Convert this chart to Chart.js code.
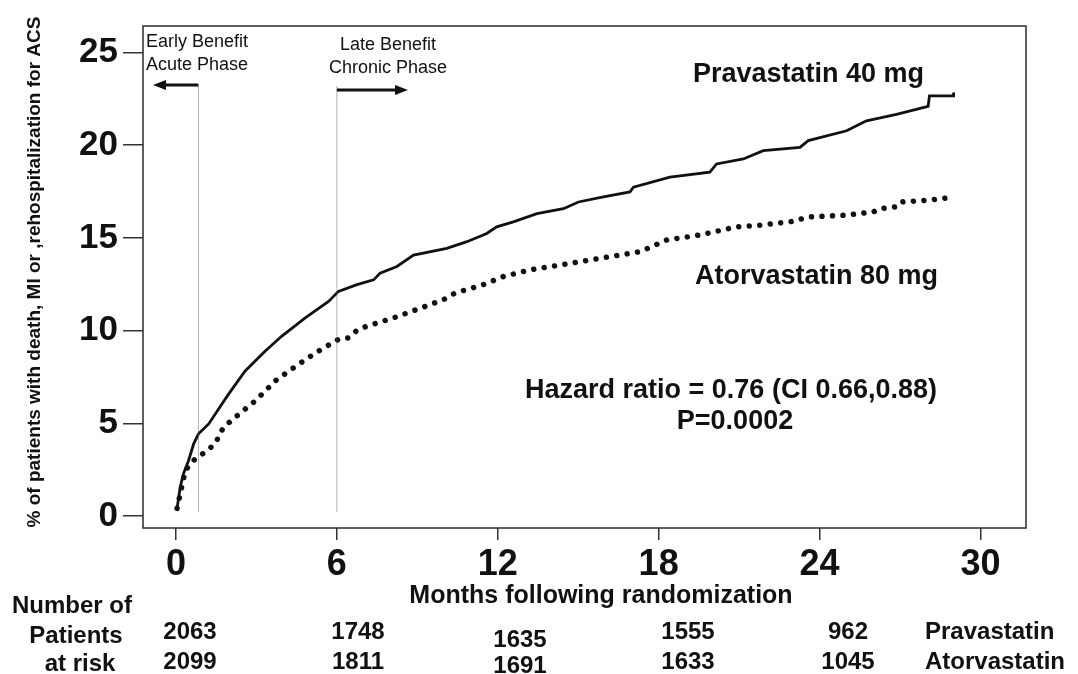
<!DOCTYPE html>
<html lang="en">
<head>
<meta charset="UTF-8">
<title>Pravastatin 40 mg vs Atorvastatin 80 mg</title>
<script src="https://cdn.jsdelivr.net/npm/chart.js"></script>
<style>
  html, body { margin: 0; padding: 0; background: #fff; }
  #wrap { width: 1078px; height: 674px; }
</style>
</head>
<body>
<div id="wrap"><canvas id="kmChart" width="1078" height="674"></canvas></div>
<script>
  // Cumulative event curves (months, % of patients)
  const pravMonths = [0.04, 0.16, 0.28, 0.47, 0.66, 0.84, 1.22, 1.59, 1.96, 2.58, 3.33, 3.95, 4.82, 5.69,
    6.06, 6.75, 7.37, 7.61, 8.24, 8.86, 10.10, 10.85, 11.59, 11.96, 12.58, 13.46, 14.45, 15.01, 15.94,
    16.93, 17.06, 18.42, 19.91, 20.16, 21.16, 21.90, 23.27, 23.58, 25.01, 25.75, 26.87, 27.86, 28.05,
    28.10, 28.98, 29.0];
  const pravPct = [0.42, 1.58, 2.29, 3.0, 3.9, 4.44, 4.97, 5.78, 6.58, 7.83, 8.90, 9.71, 10.69, 11.58,
    12.12, 12.48, 12.74, 13.10, 13.46, 14.08, 14.44, 14.80, 15.24, 15.60, 15.87, 16.31, 16.58, 16.94, 17.21,
    17.48, 17.74, 18.28, 18.55, 18.99, 19.26, 19.71, 19.89, 20.25, 20.78, 21.32, 21.67, 22.03, 22.10,
    22.66, 22.66, 22.85];

  const atorMonths = [0.04, 0.16, 0.35, 0.72, 1.09, 1.46, 1.77, 2.21, 2.96, 3.70, 4.57, 5.31, 6.06, 6.43,
    6.78, 7.12, 8.11, 8.98, 9.97, 10.41, 11.46, 12.21, 13.21, 14.70, 16.19, 17.31, 18.30, 19.54, 20.91,
    21.78, 22.90, 23.64, 25.01, 26.0, 26.25, 26.81, 27.0, 27.99, 28.74, 28.98];
  const atorPct = [0.42, 1.22, 2.47, 3.10, 3.45, 3.90, 4.79, 5.33, 6.22, 7.29, 8.19, 8.90, 9.53, 9.61,
    10.06, 10.24, 10.69, 11.14, 11.67, 12.03, 12.48, 12.92, 13.28, 13.63, 13.99, 14.26, 14.89, 15.16, 15.60,
    15.69, 15.87, 16.14, 16.23, 16.40, 16.58, 16.67, 16.94, 17.03, 17.15, 17.44];

  const xTicks = [0, 6, 12, 18, 24, 30];
  const yTicks = [0, 5, 10, 15, 20, 25];

  // early / late benefit cut points (months)
  const phaseLines = [0.84, 6];

  // patients at risk
  const riskMonths = [0, 6, 12, 18, 24];
  const pravRisk = [2063, 1748, 1635, 1555, 962];
  const atorRisk = [2099, 1811, 1691, 1633, 1045];

  const FONT = '"Liberation Sans", Arial, Helvetica, sans-serif';
  const INK = '#111';

  const toPoints = (xs, ys) => xs.map((m, i) => ({ x: m, y: ys[i] }));

  function text(ctx, str, x, y, size, weight, align) {
    ctx.font = weight + ' ' + size + 'px ' + FONT;
    ctx.textAlign = align || 'center';
    ctx.textBaseline = 'middle';
    ctx.fillStyle = INK;
    ctx.fillText(str, x, y);
  }

  function arrow(ctx, x0, y0, x1, y) {
    const dir = Math.sign(x1 - x0);
    ctx.strokeStyle = INK;
    ctx.fillStyle = INK;
    ctx.lineWidth = 3;
    ctx.beginPath();
    ctx.moveTo(x0, y);
    ctx.lineTo(x1 - dir * 10, y);
    ctx.stroke();
    ctx.beginPath();
    ctx.moveTo(x1, y);
    ctx.lineTo(x1 - dir * 13, y - 5);
    ctx.lineTo(x1 - dir * 13, y + 5);
    ctx.closePath();
    ctx.fill();
  }

  const annotations = {
    id: 'annotations',
    afterDraw(chart) {
      const { ctx, chartArea: a, scales: { x } } = chart;
      ctx.save();

      // frame around the plot
      ctx.strokeStyle = '#2a2a2a';
      ctx.lineWidth = 1.5;
      ctx.strokeRect(a.left, a.top, a.right - a.left, a.bottom - a.top);

      // phase arrows
      arrow(ctx, x.getPixelForValue(phaseLines[0]), 85, 153, 85);
      arrow(ctx, x.getPixelForValue(phaseLines[1]), 90, 408, 90);
      text(ctx, 'Early Benefit', 146, 42, 18, 'normal', 'left');
      text(ctx, 'Acute Phase', 146, 65, 18, 'normal', 'left');
      text(ctx, 'Late Benefit', 388, 45, 18, 'normal');
      text(ctx, 'Chronic Phase', 388, 68, 18, 'normal');

      // curve labels and statistics
      text(ctx, 'Pravastatin 40 mg', 693, 75, 27, 'bold', 'left');
      text(ctx, 'Atorvastatin 80 mg', 695, 277, 27, 'bold', 'left');
      text(ctx, 'Hazard ratio = 0.76 (CI 0.66,0.88)', 731, 391, 27, 'bold');
      text(ctx, 'P=0.0002', 735, 422, 27, 'bold');

      // axis titles
      text(ctx, 'Months following randomization', 601, 596, 25, 'bold');
      ctx.save();
      ctx.translate(35, 272);
      ctx.rotate(-Math.PI / 2);
      text(ctx, '% of patients with death, MI or ,rehospitalization for ACS', 0, 0, 19, 'bold');
      ctx.restore();

      // number at risk table
      text(ctx, 'Number of', 72, 606, 24, 'bold');
      text(ctx, 'Patients', 76, 636, 24, 'bold');
      text(ctx, 'at risk', 80, 664, 24, 'bold');
      const colX = [190, 358, 520, 688, 848];
      const rowShift = [0, 0, 8, 0, 0];
      riskMonths.forEach((m, i) => {
        text(ctx, String(pravRisk[i]), colX[i], 632 + rowShift[i], 24, 'bold');
        text(ctx, String(atorRisk[i]), colX[i], 662 + rowShift[i] / 2, 24, 'bold');
      });
      text(ctx, 'Pravastatin', 925, 632, 24, 'bold', 'left');
      text(ctx, 'Atorvastatin', 925, 662, 24, 'bold', 'left');

      ctx.restore();
    }
  };

  const phaseDataset = m => ({
    data: [{ x: m, y: 0.24 }, { x: m, y: 23.2 }],
    borderColor: '#666',
    borderWidth: 1,
    borderDash: [1, 1],
    pointRadius: 0
  });

  const tickFont = size => ({ family: FONT, size: size, weight: 'bold' });

  new Chart(document.getElementById('kmChart'), {
    type: 'line',
    data: {
      datasets: [
        phaseDataset(phaseLines[0]),
        phaseDataset(phaseLines[1]),
        {
          label: 'Pravastatin 40 mg',
          data: toPoints(pravMonths, pravPct),
          borderColor: INK,
          borderWidth: 2.8,
          pointRadius: 0,
          tension: 0
        },
        {
          label: 'Atorvastatin 80 mg',
          data: toPoints(atorMonths, atorPct),
          borderColor: INK,
          borderWidth: 5.5,
          borderDash: [0.01, 10.5],
          borderCapStyle: 'round',
          pointRadius: 0,
          tension: 0
        }
      ]
    },
    options: {
      responsive: false,
      animation: false,
      layout: { padding: { left: 0, top: 23, right: 52, bottom: 0 } },
      plugins: { legend: { display: false }, tooltip: { enabled: false } },
      scales: {
        x: {
          type: 'linear',
          min: -1.23,
          max: 31.7,
          afterFit: s => { s.height = 146; },
          afterBuildTicks: s => { s.ticks = xTicks.map(v => ({ value: v })); },
          border: { display: false },
          grid: { drawOnChartArea: false, drawTicks: true, tickLength: 12, color: '#333', lineWidth: 1.5 },
          ticks: { font: tickFont(36), color: INK, padding: 3, maxRotation: 0, autoSkip: false }
        },
        y: {
          type: 'linear',
          min: -0.64,
          max: 26.43,
          afterFit: s => { s.width = 143; },
          afterBuildTicks: s => { s.ticks = yTicks.map(v => ({ value: v })); },
          border: { display: false },
          grid: { drawOnChartArea: false, drawTicks: true, tickLength: 20, color: '#333', lineWidth: 1.5 },
          ticks: { font: tickFont(35), color: INK, padding: 5, autoSkip: false }
        }
      }
    },
    plugins: [annotations]
  });
</script>
</body>
</html>
